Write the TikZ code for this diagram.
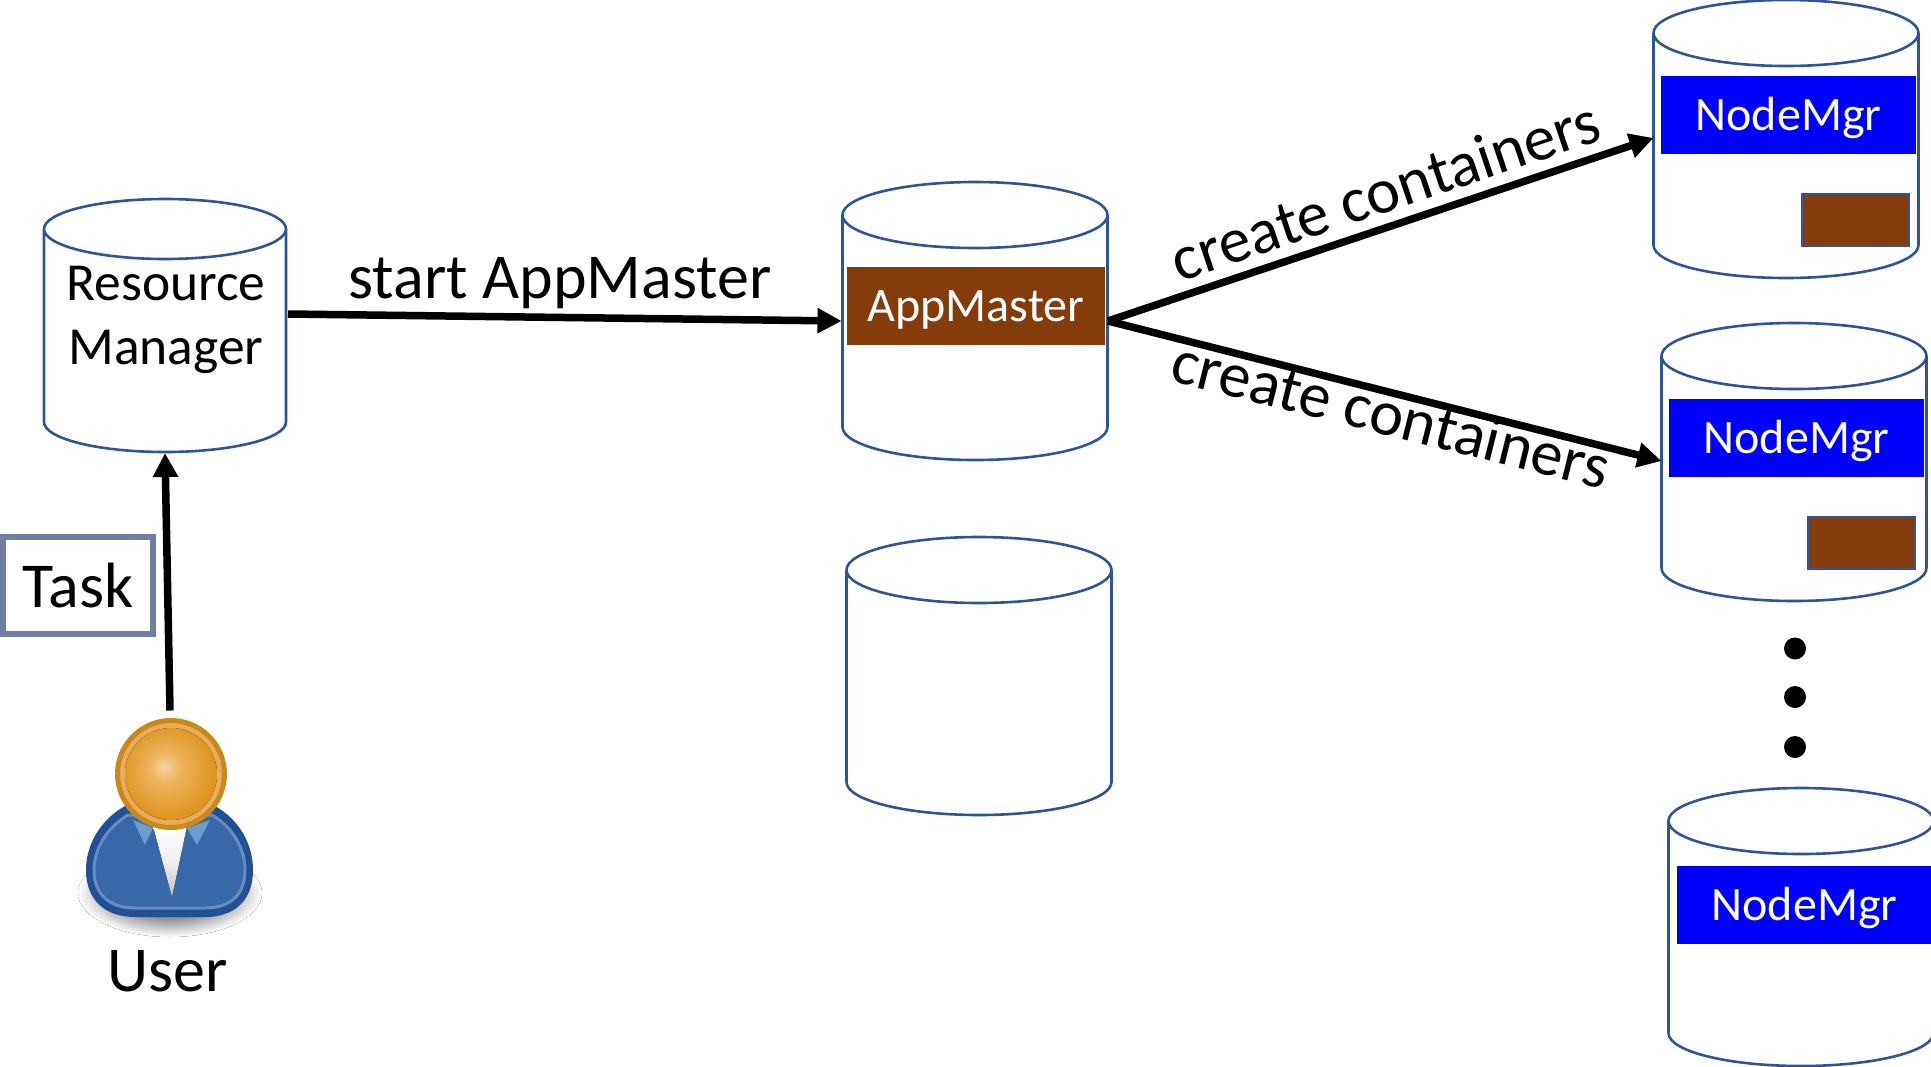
\documentclass[tikz,border=0pt]{standalone}
\usepackage{fontspec}
\setmainfont{Carlito}
\usetikzlibrary{arrows.meta,calc}
\definecolor{cyl}{HTML}{2F5597}
\definecolor{taskc}{HTML}{6E7FA3}
\definecolor{brownbox}{HTML}{843C0C}
\definecolor{bodydark}{RGB}{33,80,150}
\definecolor{bodyline}{RGB}{105,140,190}
\definecolor{bodyfill}{RGB}{55,105,170}
\definecolor{collarc}{RGB}{110,155,205}
\definecolor{headring}{RGB}{201,138,27}
\definecolor{headinner}{RGB}{232,173,90}
\definecolor{headlight}{RGB}{245,213,165}
\definecolor{headmid}{RGB}{238,180,95}
\definecolor{headedge}{RGB}{224,150,35}
\pgfdeclareradialshading{headshade}{\pgfpoint{-4bp}{4bp}}{color(0bp)=(headlight);color(8bp)=(headmid);color(25bp)=(headedge);color(50bp)=(headedge)}
\pgfdeclareradialshading{shadowshade}{\pgfpoint{0bp}{0bp}}{color(0bp)=(black!55);color(14bp)=(black!45);color(25bp)=(white);color(50bp)=(white)}
\pgfdeclareverticalshading{shirtshade}{100bp}{color(0bp)=(black!25);color(25bp)=(black!25);color(50bp)=(black!6);color(75bp)=(white);color(100bp)=(white)}
\newcommand{\lowtext}[1]{\smash{\raisebox{-15pt}{#1}}}
\newcommand{\drumnode}[6]{%
  \node[drumbox,minimum width=#4pt,minimum height=#5pt] (#1) at (#2,#3) {};
  \draw[drumline] ($(#1.north west)+(0pt,-#6pt)$) -- ($(#1.south west)+(0pt,#6pt)$)
     arc[start angle=180,end angle=360,x radius=#4pt/2,y radius=#6pt]
     -- ($(#1.north east)+(0pt,-#6pt)$)
     arc[start angle=0,end angle=180,x radius=#4pt/2,y radius=#6pt] -- cycle;
  \draw[drumline] ($(#1.north west)+(0pt,-#6pt)$)
     arc[start angle=180,end angle=360,x radius=#4pt/2,y radius=#6pt];
}
\tikzset{
  drumbox/.style={rectangle,inner sep=0pt,outer sep=0pt},
  drumline/.style={draw=cyl,line width=2.6pt,fill=white},
  nmbox/.style={fill=blue,text=white,minimum width=255pt,minimum height=78pt,inner sep=0pt,font=\fontsize{48}{48}\selectfont},
  ambox/.style={fill=brownbox,text=white,minimum width=258pt,minimum height=78pt,inner sep=0pt,font=\fontsize{48}{48}\selectfont},
  contbox/.style={fill=brownbox,draw=cyl,line width=2pt,minimum width=107pt,minimum height=52pt,inner sep=0pt},
  arrowline/.style={line width=7.5pt,-{Triangle[length=24pt,width=24pt]}},
  biglabel/.style={font=\fontsize{64}{64}\selectfont,inner sep=0pt},
  dotmark/.style={circle,fill=black,minimum size=22pt,inner sep=0pt},
}
\begin{document}
\begin{tikzpicture}[x=1pt,y=-1pt]
\clip (0,0) rectangle (1931,1066);
% cylinders
\drumnode{rm}{165}{325.5}{242}{253}{30}
\node[align=center,inner sep=0pt,font=\fontsize{53.5}{64}\selectfont] (rmtext) at (166,320) {Resource\\Manager};
\drumnode{am}{975}{321}{265}{278}{33}
\drumnode{spare}{979}{676}{265}{278}{33}
\drumnode{n1}{1786}{139}{265}{278}{33}
\drumnode{n2}{1794}{462}{265}{278}{33}
\drumnode{n3}{1801}{927}{265}{278}{33}
% boxes
\node[ambox] (amb) at (976,306) {\lowtext{AppMaster}};
\node[nmbox] (nm1) at (1788.5,115) {\lowtext{NodeMgr}};
\node[nmbox] (nm2) at (1796.5,438) {\lowtext{NodeMgr}};
\node[nmbox] (nm3) at (1804.5,905) {\lowtext{NodeMgr}};
\node[contbox] (c1) at (1855,220) {};
\node[contbox] (c2) at (1861.5,543) {};
% dots
\node[dotmark] (d1) at (1795,648.5) {};
\node[dotmark] (d2) at (1795,697) {};
\node[dotmark] (d3) at (1795,747) {};
% task
\node[draw=taskc,line width=5.5pt,fill=white,minimum width=150pt,minimum height=97pt,inner sep=0pt,font=\fontsize{64}{64}\selectfont] (task) at (78,585.5) {Task};
% user icon
\fill[shading=shadowshade] (170,893) ellipse [x radius=92,y radius=44];
\path[fill=bodydark] (125,806) .. controls (100,820) and (86,845) .. (86,870)
   .. controls (86,900) and (105,917) .. (135,917) -- (205,917)
   .. controls (235,917) and (253,900) .. (253,870) .. controls (253,845) and (240,820) .. (215,806) -- cycle;
\path[draw=bodyline,line width=3pt,fill=bodyfill]
   (128,815) .. controls (106,828) and (94,850) .. (94,870)
   .. controls (94,895) and (110,908) .. (135,908) -- (205,908)
   .. controls (230,908) and (245,895) .. (245,870) .. controls (245,850) and (234,828) .. (212,815) -- cycle;
\fill[collarc] (133,820) -- (153,828) -- (145,845) -- cycle;
\fill[collarc] (210,820) -- (187,828) -- (197,845) -- cycle;
\fill[shading=shirtshade] (153,826) -- (187,826) -- (172,897) -- cycle;
\node[circle,draw=headring,line width=5pt,minimum size=107pt,inner sep=0pt,outer sep=0pt,fill=headinner] (user) at (171,774) {};
\fill[shading=headshade] (171,774) circle [radius=46];
\node[font=\fontsize{64}{64}\selectfont,inner sep=0pt] (userlabel) at (168,971) {User};
% connectors
\draw[arrowline] ([xshift=-1pt,yshift=10pt]user.north) -- ([yshift=-1pt]rm.south);
\draw[arrowline] ($(rm.east)+(2,-11.5)$) -- ($(am.west)+(-1,0)$);
\draw[arrowline] ($(am.east)+(0.5,0)$) -- ($(n1.west)+(0,-1)$);
\draw[arrowline] ($(am.east)+(0.5,0)$) -- ($(n2.west)+(0,-1)$);
% labels
\node[biglabel] (l1) at (560,283) {start AppMaster};
\node[biglabel,rotate=18.6] (l2) at (1385,190) {create containers};
\node[biglabel,rotate=-14] (l3) at (1391,414) {create containers};
\end{tikzpicture}
\end{document}
